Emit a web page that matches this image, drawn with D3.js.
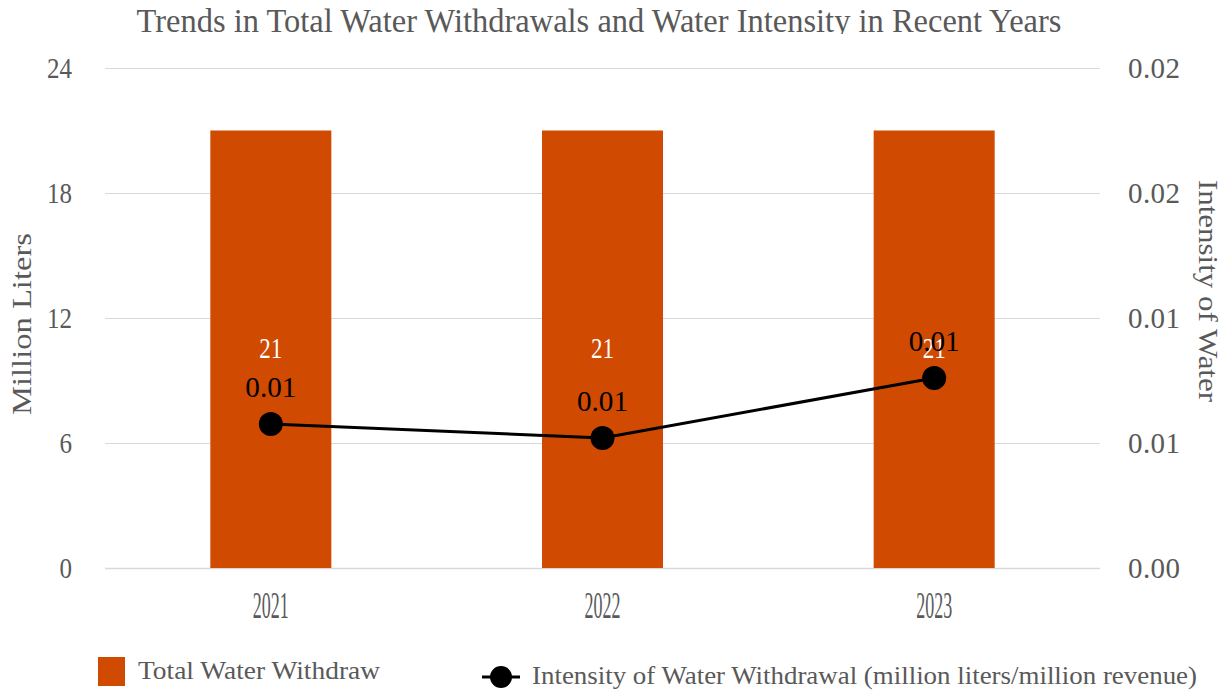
<!DOCTYPE html>
<html><head><meta charset="utf-8">
<script src="https://cdn.jsdelivr.net/npm/d3@7"></script>
<style>
body{margin:0;background:#fff;}
svg{display:block;}
text{font-family:"Liberation Serif","Times New Roman",serif;}
</style></head>
<body><svg id="c" width="1231" height="690"></svg>
<script>
const title = "Trends in Total Water Withdrawals and Water Intensity in Recent Years";
const years = ["2021","2022","2023"];
const withdrawals = [21, 21, 21];
const intensity = [0.00576, 0.0052, 0.0076];
const leftTicks = [0, 6, 12, 18, 24];
const rightTicks = [0, 0.005, 0.01, 0.015, 0.02];
const leftTitle = "Million Liters";
const rightTitle = "Intensity of Water";
const barLegend = "Total Water Withdraw";
const lineLegend = "Intensity of Water Withdrawal (million liters/million revenue)";

const svg = d3.select("#c");
const W = 1231, H = 690;
const m = {l:105, r:131, t:68, b:122};
const x = d3.scaleBand().domain(years).range([m.l, W - m.r]).paddingInner(0).paddingOuter(0);
const yL = d3.scaleLinear().domain([0, 24]).range([H - m.b, m.t]);
const yR = d3.scaleLinear().domain([0, 0.02]).range([H - m.b, m.t]);
const grey = "#595959";
const barColor = "#d04a02";
const fmt2 = d => (Math.round(d * 100 + 1e-9) / 100).toFixed(2);

// title (clipped like the original)
svg.append("clipPath").attr("id","tclip").append("rect").attr("x",0).attr("y",0).attr("width",W).attr("height",34);
svg.append("text").attr("clip-path","url(#tclip)")
  .attr("x", 599).attr("y", 32).attr("text-anchor","middle")
  .attr("font-size", 34).attr("fill", grey)
  .attr("textLength", 925).attr("lengthAdjust","spacingAndGlyphs")
  .text(title);

// gridlines
svg.append("g").selectAll("line").data(leftTicks).join("line")
  .attr("x1", m.l).attr("x2", W - m.r)
  .attr("y1", d => Math.round(yL(d)) + 0.5).attr("y2", d => Math.round(yL(d)) + 0.5)
  .attr("stroke", "#d9d9d9").attr("stroke-width", d => d === 0 ? 1.5 : 1);

// left axis
const gL = svg.append("g").attr("transform", `translate(${m.l},0)`)
  .call(d3.axisLeft(yL).tickValues(leftTicks).tickSize(0).tickPadding(33).tickFormat(d3.format("d")));
gL.select(".domain").remove();
gL.selectAll("text").attr("font-size", 29).attr("fill", grey).attr("dy","0.34em")
  .attr("textLength", d => 12.5 * String(d).length).attr("lengthAdjust","spacingAndGlyphs");

// right axis
const gR = svg.append("g").attr("transform", `translate(${W - m.r},0)`)
  .call(d3.axisRight(yR).tickValues(rightTicks).tickSize(0).tickPadding(28).tickFormat(fmt2));
gR.select(".domain").remove();
gR.selectAll("text").attr("font-size", 29).attr("fill", grey).attr("dy","0.34em")
  .attr("textLength", 52).attr("lengthAdjust","spacing");

// x axis
const gX = svg.append("g").attr("transform", `translate(0,${H - m.b})`)
  .call(d3.axisBottom(x).tickSize(0).tickPadding(24));
gX.select(".domain").remove();
gX.selectAll("text").attr("font-size", 37).attr("fill", grey).attr("dy","0.71em")
  .attr("textLength", 36).attr("lengthAdjust","spacingAndGlyphs");

// axis titles
svg.append("text").attr("transform", `translate(31,324) rotate(-90)`)
  .attr("text-anchor","middle").attr("font-size", 27).attr("fill", grey)
  .attr("textLength", 182).attr("lengthAdjust","spacingAndGlyphs").text(leftTitle);
svg.append("text").attr("transform", `translate(1199,291) rotate(90)`)
  .attr("text-anchor","middle").attr("font-size", 27).attr("fill", grey)
  .attr("textLength", 222).attr("lengthAdjust","spacingAndGlyphs").text(rightTitle);

// bars
const bw = 121;
const cx = d => x(d) + x.bandwidth() / 2;
svg.append("g").selectAll("rect").data(years).join("rect")
  .attr("x", d => cx(d) - bw / 2).attr("width", bw)
  .attr("y", (d,i) => yL(withdrawals[i])).attr("height", (d,i) => yL(0) - yL(withdrawals[i]))
  .attr("fill", barColor);

// bar labels
svg.append("g").selectAll("text").data(years).join("text")
  .attr("x", d => cx(d)).attr("y", (d,i) => (yL(withdrawals[i]) + yL(0)) / 2 + 9)
  .attr("text-anchor","middle").attr("font-size", 29).attr("fill", "#fff")
  .attr("textLength", 23).attr("lengthAdjust","spacingAndGlyphs")
  .text((d,i) => d3.format("d")(withdrawals[i]));

// line
const line = d3.line().x(d => cx(d.y)).y(d => yR(d.v));
const pts = years.map((y,i) => ({y, v:intensity[i]}));
svg.append("path").datum(pts).attr("d", line)
  .attr("fill","none").attr("stroke","#000").attr("stroke-width", 3);
svg.append("g").selectAll("circle").data(pts).join("circle")
  .attr("cx", d => cx(d.y)).attr("cy", d => yR(d.v)).attr("r", 12).attr("fill","#000");
svg.append("g").selectAll("text").data(pts).join("text")
  .attr("x", d => cx(d.y)).attr("y", d => yR(d.v) - 27)
  .attr("text-anchor","middle").attr("font-size", 30).attr("fill", "#000")
  .attr("textLength", 51).attr("lengthAdjust","spacingAndGlyphs")
  .text(d => fmt2(d.v));

// legend
const lg = svg.append("g");
lg.append("rect").attr("x", 98).attr("y", 657).attr("width", 27).attr("height", 29).attr("fill", barColor);
lg.append("text").attr("x", 138).attr("y", 679).attr("font-size", 25).attr("fill", grey)
  .attr("textLength", 242).attr("lengthAdjust","spacingAndGlyphs").text(barLegend);
lg.append("line").attr("x1", 482).attr("x2", 520).attr("y1", 677).attr("y2", 677)
  .attr("stroke","#000").attr("stroke-width", 3);
lg.append("circle").attr("cx", 501).attr("cy", 677).attr("r", 11).attr("fill","#000");
lg.append("text").attr("x", 532).attr("y", 684).attr("font-size", 25).attr("fill", grey)
  .attr("textLength", 665).attr("lengthAdjust","spacingAndGlyphs").text(lineLegend);
</script></body></html>
